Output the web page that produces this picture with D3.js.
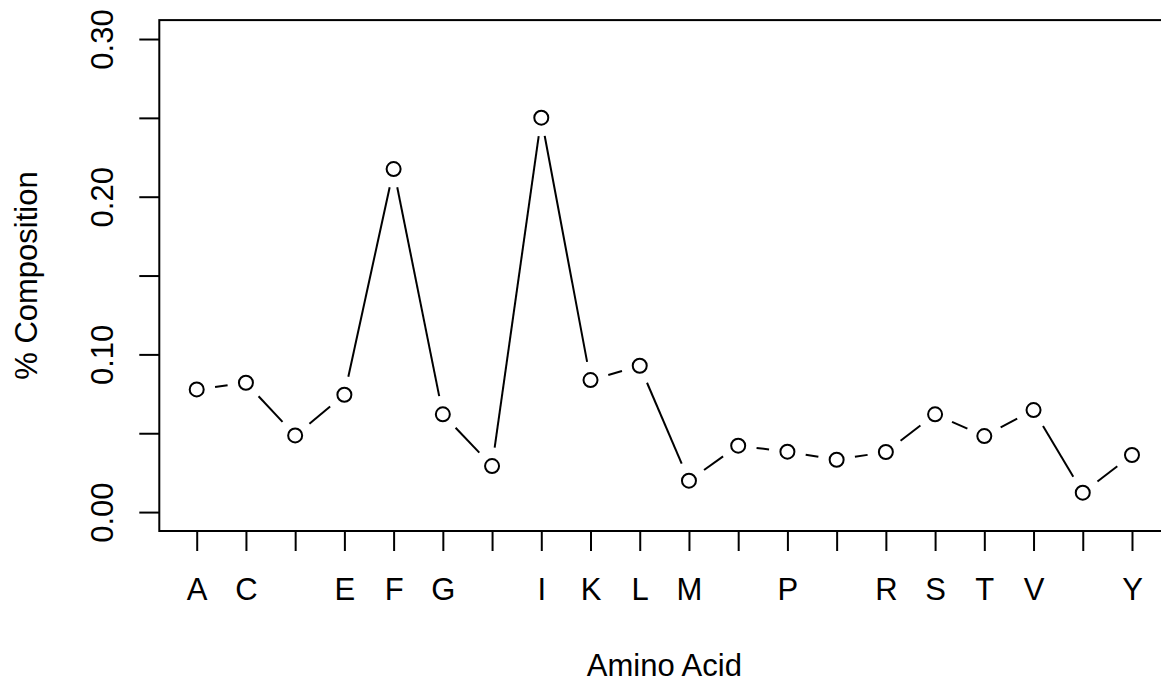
<!DOCTYPE html>
<html lang="en">
<head>
    <meta charset="UTF-8">
    <title>% Composition by Amino Acid</title>
    <style>
        html, body {
            margin: 0;
            padding: 0;
            background: #fff;
            overflow: hidden;
        }
        svg {
            display: block;
        }
        text {
            font-family: "Liberation Sans", Arial, sans-serif;
            font-size: 31px;
            fill: #000;
        }
        .domain {
            display: none;
        }
        .tick line {
            stroke: #000;
            stroke-width: 2px;
        }
    </style>
    <script src="https://d3js.org/d3.v7.min.js"></script>
</head>
<body>
    <svg></svg>
    <script>
        // amino acids in plot order, and the labels R managed to fit
        var aminoAcids = ["A", "C", "D", "E", "F", "G", "H", "I", "K", "L",
                          "M", "N", "P", "Q", "R", "S", "T", "V", "W", "Y"];
        var composition = [0.0778, 0.0820, 0.0486, 0.0744, 0.2175, 0.0620, 0.0292, 0.2501, 0.0837, 0.0928,
                           0.0199, 0.0421, 0.0383, 0.0332, 0.0381, 0.0620, 0.0482, 0.0647, 0.0123, 0.0362];
        var shownLabels = ["A", "C", "E", "F", "G", "I", "K", "L", "M", "P", "R", "S", "T", "V", "Y"];
        var yTicks = [0, 0.05, 0.10, 0.15, 0.20, 0.25, 0.30];
        var yLabels = [0, 0.10, 0.20, 0.30];

        var width = 1161,
            height = 680;

        var svg = d3.select("svg")
            .attr("width", width)
            .attr("height", height);

        // plot region as R sets it up (4% padding on each axis)
        var plotLeft = 159.3, plotRight = 1169.4, plotTop = 20.1, plotBottom = 531;
        var n = aminoAcids.length;
        var padX = (n - 1) * 0.04, padY = 0.3 * 0.04;

        var x = d3.scaleLinear()
            .domain([1 - padX, n + padX])
            .range([plotLeft, plotRight]);

        var y = d3.scaleLinear()
            .domain([0 - padY, 0.3 + padY])
            .range([plotBottom, plotTop]);

        var data = aminoAcids.map((a, i) => ({ name: a, idx: i + 1, value: composition[i] }));

        // x axis
        svg.append("g")
            .attr("transform", "translate(0," + plotBottom + ")")
            .call(d3.axisBottom(x)
                .tickValues(data.map(d => d.idx))
                .tickSize(20)
                .tickPadding(27)
                .tickFormat(i => shownLabels.includes(aminoAcids[i - 1]) ? aminoAcids[i - 1] : ""))
            .call(g => g.selectAll("text")
                .attr("font-family", null)
                .attr("font-size", null));

        // y axis, labels rotated like R's default las=0
        var yAxis = svg.append("g")
            .attr("transform", "translate(" + plotLeft + ",0)")
            .call(d3.axisLeft(y)
                .tickValues(yTicks)
                .tickSize(20)
                .tickFormat(""));

        yAxis.selectAll(".tick")
            .filter(d => yLabels.some(v => Math.abs(v - d) < 1e-9))
            .append("text")
            .attr("transform", "rotate(-90)")
            .attr("x", 0)
            .attr("y", -46.5)
            .attr("text-anchor", "middle")
            .text(d => d3.format(".2f")(d));

        // box
        svg.append("rect")
            .attr("x", plotLeft)
            .attr("y", plotTop)
            .attr("width", plotRight - plotLeft)
            .attr("height", plotBottom - plotTop)
            .attr("fill", "none")
            .attr("stroke", "#000")
            .attr("stroke-width", 2);

        // type = "b": segments with a gap around each point
        var gap = 18.5;
        var segs = [];
        for (var i = 0; i < data.length - 1; i++) {
            var x0 = x(data[i].idx), y0 = y(data[i].value),
                x1 = x(data[i + 1].idx), y1 = y(data[i + 1].value);
            var dx = x1 - x0, dy = y1 - y0, len = Math.sqrt(dx * dx + dy * dy);
            if (len <= 2 * gap) continue;
            var ux = dx / len, uy = dy / len;
            segs.push({ x1: x0 + ux * gap, y1: y0 + uy * gap, x2: x1 - ux * gap, y2: y1 - uy * gap });
        }

        svg.append("g")
            .selectAll("line")
            .data(segs)
            .enter().append("line")
            .attr("x1", d => d.x1)
            .attr("y1", d => d.y1)
            .attr("x2", d => d.x2)
            .attr("y2", d => d.y2)
            .attr("stroke", "#000")
            .attr("stroke-width", 2);

        svg.append("g")
            .selectAll("circle")
            .data(data)
            .enter().append("circle")
            .attr("cx", d => x(d.idx))
            .attr("cy", d => y(d.value))
            .attr("r", 7)
            .attr("fill", "none")
            .attr("stroke", "#000")
            .attr("stroke-width", 2);

        // axis titles
        svg.append("text")
            .attr("x", (plotLeft + plotRight) / 2)
            .attr("y", 676)
            .attr("text-anchor", "middle")
            .text("Amino Acid");

        svg.append("text")
            .attr("transform", "translate(37," + (plotTop + plotBottom) / 2 + ") rotate(-90)")
            .attr("text-anchor", "middle")
            .text("% Composition");
    </script>
</body>
</html>
